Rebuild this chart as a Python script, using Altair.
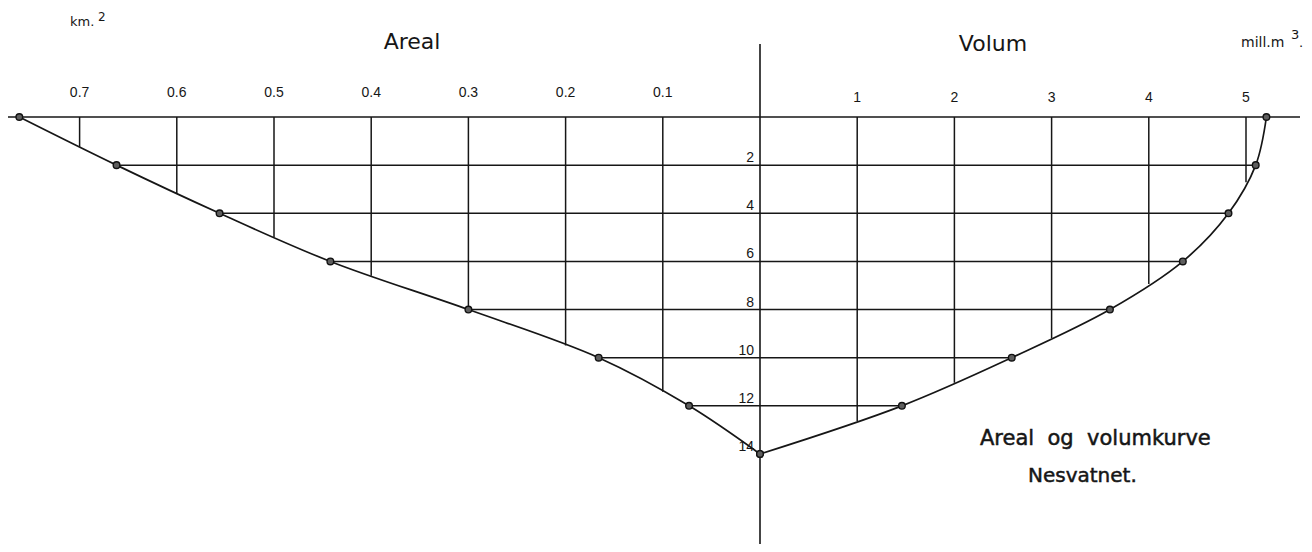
import altair as alt
import pandas as pd
import numpy as np

# ---- data ----
depths = [0, 2, 4, 6, 8, 10, 12, 14]                      # m
area_km2 = [0.762, 0.662, 0.556, 0.442, 0.300, 0.166, 0.073, 0.0]
volume_mill_m3 = [5.21, 5.10, 4.82, 4.35, 3.60, 2.59, 1.46, 0.0]
area_ticks = [0.1, 0.2, 0.3, 0.4, 0.5, 0.6, 0.7]
area_tick_labels = ["0.1", "0.2", "0.3", "0.4", "0.5", "0.6", "0.7"]
volume_ticks = [1, 2, 3, 4, 5]
volume_tick_labels = ["1", "2", "3", "4", "5"]
depth_ticks = [2, 4, 6, 8, 10, 12, 14]
depth_tick_labels = ["2", "4", "6", "8", "10", "12", "14"]

# ---- layout ----
W, H = 1296, 536
PX = 97.2      # px per 0.1 km2 and per 1 mill m3
CX = 752       # x of the centre axis
Y0 = 109       # y of depth 0
PY = 24.07     # px per m
xs = alt.Scale(domain=[-CX / PX, (W - CX) / PX], nice=False, zero=False)
ys = alt.Scale(domain=[-Y0 / PY, (H - Y0) / PY], reverse=True, nice=False, zero=False)
INK = "#161616"
NUMFONT = "Liberation Sans"
TFONT = "DejaVu Sans"

a = np.array(area_km2)
v = np.array(volume_mill_m3)
d = np.array(depths, dtype=float)

pts_area = pd.DataFrame({"depth": d, "x": -a * 10})
pts_vol = pd.DataFrame({"depth": d, "x": v})

hgrid = pd.DataFrame({"depth": d[1:-1], "x1": -a[1:-1] * 10, "x2": v[1:-1]})

area_end = np.interp(area_ticks, a[::-1], d[::-1])
vol_end = np.interp(volume_ticks, v[::-1], d[::-1])
vgrid = pd.DataFrame({
    "x": list(-np.array(area_ticks) * 10) + list(volume_ticks),
    "y1": [0.0] * (len(area_ticks) + len(volume_ticks)),
    "y2": list(area_end) + list(vol_end),
})

X = lambda f: alt.X(f, scale=xs, axis=None)
Y = lambda f: alt.Y(f, scale=ys, axis=None)

curve_a = alt.Chart(pts_area).mark_line(
    interpolate="catmull-rom", color=INK, strokeWidth=1.7
).encode(x=X("x:Q"), y=Y("depth:Q"), order="depth:Q")
curve_v = alt.Chart(pts_vol).mark_line(
    interpolate="catmull-rom", color=INK, strokeWidth=1.7
).encode(x=X("x:Q"), y=Y("depth:Q"), order="depth:Q")

hlines = alt.Chart(hgrid).mark_rule(color=INK, strokeWidth=1.5).encode(
    x=X("x1:Q"), x2="x2:Q", y=Y("depth:Q"))
vlines = alt.Chart(vgrid).mark_rule(color=INK, strokeWidth=1.5).encode(
    x=X("x:Q"), y=Y("y1:Q"), y2="y2:Q")

top_line = alt.Chart(pd.DataFrame({"depth": [0]})).mark_rule(
    color=INK, strokeWidth=1.6).encode(y=Y("depth:Q"), x=alt.value(0), x2=alt.value(1292))
centre = alt.Chart(pd.DataFrame({"x": [0]})).mark_rule(
    color=INK, strokeWidth=1.6).encode(x=X("x:Q"), y=alt.value(36), y2=alt.value(H))

dots_a = alt.Chart(pts_area).mark_point(
    shape="circle", filled=True, fill="#5e5e5e", stroke="#111", strokeWidth=1.4,
    size=44, opacity=1).encode(x=X("x:Q"), y=Y("depth:Q"))
dots_v = alt.Chart(pts_vol).mark_point(
    shape="circle", filled=True, fill="#5e5e5e", stroke="#111", strokeWidth=1.4,
    size=44, opacity=1).encode(x=X("x:Q"), y=Y("depth:Q"))

area_lab = alt.Chart(pd.DataFrame({"x": -np.array(area_ticks) * 10,
                                   "t": area_tick_labels})).mark_text(
    font=NUMFONT, fontSize=14, color=INK, baseline="middle", align="center"
).encode(x=X("x:Q"), y=alt.value(85), text="t:N")
vol_lab = alt.Chart(pd.DataFrame({"x": volume_ticks, "t": volume_tick_labels})).mark_text(
    font=NUMFONT, fontSize=14, color=INK, baseline="middle", align="center"
).encode(x=X("x:Q"), y=alt.value(90), text="t:N")
depth_lab = alt.Chart(pd.DataFrame({"depth": depth_ticks, "t": depth_tick_labels})).mark_text(
    font=NUMFONT, fontSize=14, color=INK, baseline="alphabetic", align="right", dy=-3
).encode(x=alt.value(746), y=Y("depth:Q"), text="t:N")


def label(txt, x, y, size, font=TFONT, align="center", bold=0.0):
    kw = dict(font=font, fontSize=size, color=INK, align=align, baseline="middle")
    if bold > 0:
        kw.update(stroke=INK, strokeWidth=bold)
    return alt.Chart(pd.DataFrame({"t": [txt]})).mark_text(**kw).encode(
        x=alt.value(x), y=alt.value(y), text="t:N")


texts = [
    label("Areal", 404, 34, 22),
    label("Volum", 985, 36, 22),
    label("km.", 62, 14, 13, align="left"),
    label("2", 90, 9, 12, align="left"),
    label("mill.m", 1233, 35, 14, align="left"),
    label("3", 1283, 27, 13, align="left"),
    label(".", 1291, 35, 13, align="left"),
    label("Areal\u00a0\u00a0og\u00a0\u00a0volumkurve", 972, 431, 21, align="left", bold=0.5),
    label("Nesvatnet.", 1020, 468, 20, align="left", bold=0.5),
]

chart = alt.layer(
    top_line, centre, hlines, vlines, curve_a, curve_v, dots_a, dots_v,
    area_lab, vol_lab, depth_lab, *texts
).properties(
    width=W, height=H, padding=0, background="white",
    autosize=alt.AutoSizeParams(type="none")
).configure_view(stroke=None)

chart.save("out.html", embed_options={"renderer": "svg", "actions": False})
